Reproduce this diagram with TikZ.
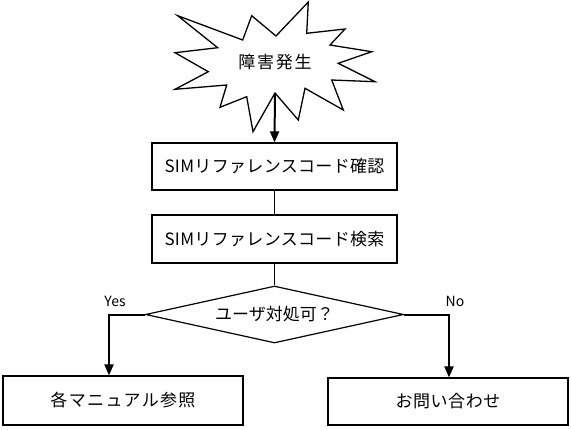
\documentclass[tikz,border=0pt]{standalone}
\usepackage{fontspec}
\setmainfont{Noto Sans CJK JP}
\usetikzlibrary{arrows.meta,shapes.geometric}
\newcommand{\ls}[2]{{\addfontfeature{LetterSpace=#1}#2}}
\begin{document}
\begin{tikzpicture}[x=1pt,y=-1pt,
  txt/.style={font=\fontsize{17}{20}\selectfont},
  box/.style={draw,line width=1.2pt,rectangle,inner sep=0pt,txt},
  decision/.style={draw,line width=1.2pt,diamond,inner sep=0pt,minimum width=258pt,minimum height=57pt},
  arr/.style={line width=2pt,-{Triangle[width=9pt,length=11pt]}},
  conn/.style={line width=1.1pt},
  lbl/.style={font=\fontsize{14}{16}\selectfont,inner sep=0pt}]
\useasboundingbox (0,0) rectangle (571,429);
% star
\draw[line width=1.3pt,line join=miter] (177.7,15.7) -- (242.7,40) -- (251.7,15.7) -- (276,36) -- (308.3,2)
 -- (306.7,33.3) -- (345,29) -- (330,45) -- (371.7,51.7) -- (338.3,63.3) -- (375,81.7)
 -- (331.7,80) -- (343.3,110) -- (305,88.3) -- (298.3,120) -- (275,93) -- (253,131.7)
 -- (246.7,96.7) -- (220,107.3) -- (226.7,85) -- (175,89.3) -- (208.3,71.7) -- (175,52.7)
 -- (217.7,47.7) -- cycle;
\coordinate (starbot) at (275,93);
\node[txt,inner sep=0pt] (star) at (275,62) {\ls{10}{障害発生}};
% boxes
\node[box,minimum width=245pt,minimum height=47pt] (b1) at (274.5,166.5) {\ls{2}{SIMリファレンスコード確認}};
\node[box,minimum width=245pt,minimum height=48pt] (b2) at (274.5,239) {\ls{2}{SIMリファレンスコード検索}};
\node[decision] (q) at (274.5,314.5) {};
\node[txt,inner sep=0pt] (qt) at (q.center) {ユーザ対処可？};
\node[box,minimum width=240pt,minimum height=49pt] (bl) at (123,400.5) {\ls{8}{各マニュアル参照}};
\node[box,minimum width=240pt,minimum height=47pt] (br) at (448,401.5) {\ls{3}{お問い合わせ}};
% connectors
\draw[arr] (starbot) -- (b1.north);
\draw[conn] (b1) -- (b2);
\draw[conn] (b2) -- (q);
\coordinate (yesturn) at (109,314.5);
\coordinate (noturn) at (449,314.5);
\draw[arr] (q.west) -- (yesturn) -- (yesturn |- bl.north);
\draw[arr] (q.east) -- (noturn) -- (noturn |- br.north);
\node[lbl] (yes) at (115,301) {Yes};
\node[lbl] (no) at (455,301) {No};
\end{tikzpicture}
\end{document}
